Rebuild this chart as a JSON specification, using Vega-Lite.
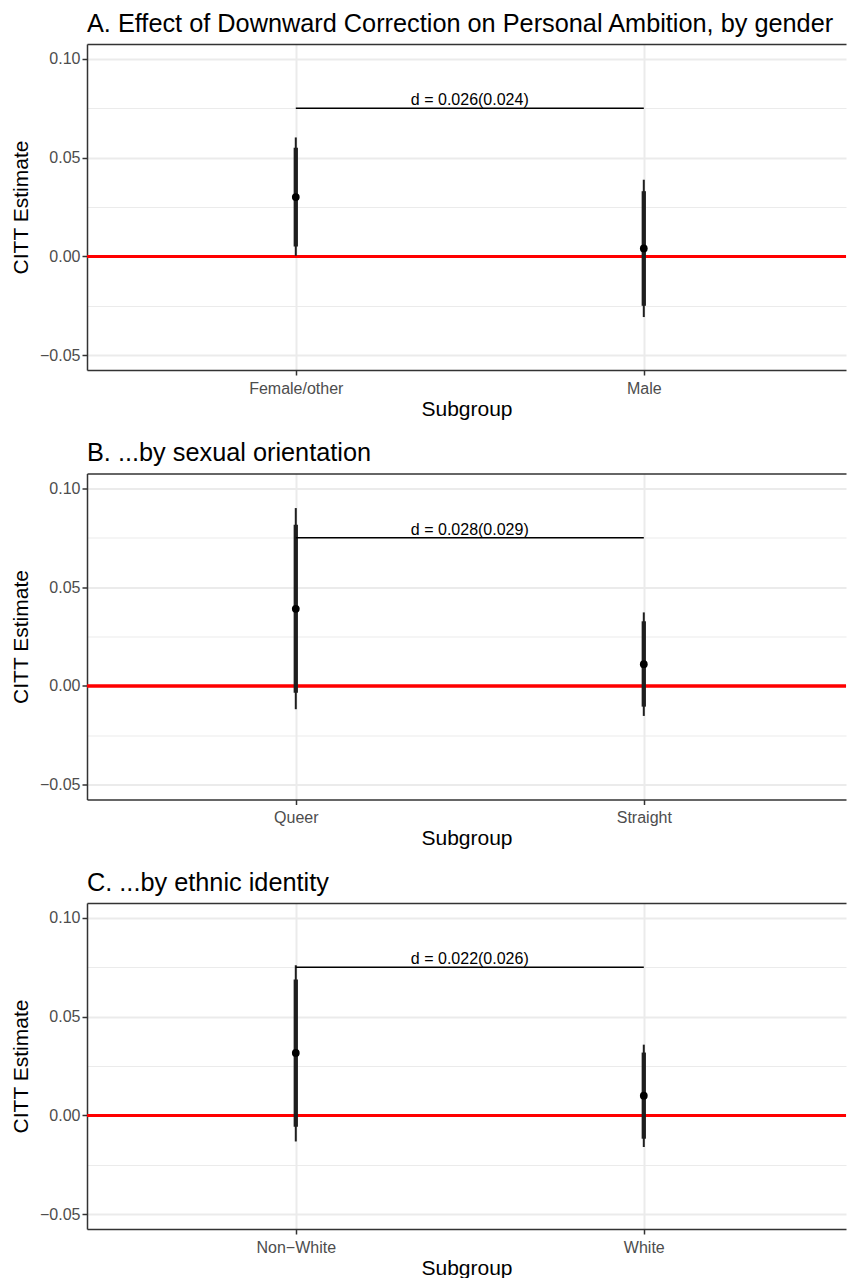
{
  "$schema": "https://vega.github.io/schema/vega-lite/v6.json",
  "padding": {"left": 10, "top": 11, "right": 0, "bottom": 0},
  "background": "white",
  "config": {
    "font": "Liberation Sans",
    "view": {"stroke": null},
    "axis": {
      "labelFont": "Liberation Sans", "titleFont": "Liberation Sans",
      "labelFontSize": 16, "labelColor": "#4D4D4D",
      "titleFontSize": 21, "titleFontWeight": "normal", "titleColor": "black",
      "tickColor": "#333333", "tickSize": 5, "tickWidth": 1.5,
      "domain": true, "domainColor": "#333333", "domainWidth": 1.5,
      "gridColor": "#EBEBEB", "gridWidth": 2
    },
    "title": {"font": "Liberation Sans", "fontSize": 25.3, "fontWeight": "normal", "anchor": "start", "frame": "group", "color": "black", "offset": 7},
    "concat": {"spacing": 21.5}
  },
  "datasets": {
    "est": [
      {"panel": "A", "group": "Female/other", "est": 0.030, "lo95": 0.0003, "hi95": 0.0602, "lo90": 0.0050, "hi90": 0.0550},
      {"panel": "A", "group": "Male", "est": 0.004, "lo95": -0.0307, "hi95": 0.0388, "lo90": -0.0250, "hi90": 0.0330},
      {"panel": "B", "group": "Queer", "est": 0.039, "lo95": -0.0118, "hi95": 0.0900, "lo90": -0.0035, "hi90": 0.0815},
      {"panel": "B", "group": "Straight", "est": 0.011, "lo95": -0.0152, "hi95": 0.0372, "lo90": -0.0105, "hi90": 0.0327},
      {"panel": "C", "group": "Non\u2212White", "est": 0.0316, "lo95": -0.0132, "hi95": 0.0760, "lo90": -0.0057, "hi90": 0.0688},
      {"panel": "C", "group": "White", "est": 0.010, "lo95": -0.0160, "hi95": 0.0358, "lo90": -0.0118, "hi90": 0.0318}
    ],
    "diff": [
      {"panel": "A", "x1": 1, "x2": 2, "xmid": 1.5, "y": 0.075, "label": "d = 0.026(0.024)"},
      {"panel": "B", "x1": 1, "x2": 2, "xmid": 1.5, "y": 0.075, "label": "d = 0.028(0.029)"},
      {"panel": "C", "x1": 1, "x2": 2, "xmid": 1.5, "y": 0.075, "label": "d = 0.022(0.026)"}
    ]
  },
  "vconcat": [
    {
      "title": {"text": "A. Effect of Downward Correction on Personal Ambition, by gender"},
      "width": 759, "height": 326,
      "resolve": {"scale": {"x": "independent"}, "axis": {"x": "independent", "y": "independent"}},
      "layer": [
        {
          "data": {"name": "est"},
          "transform": [{"filter": {"field": "panel", "equal": "A"}}],
          "layer": [
            {"mark": {"type": "rule", "color": "#FF0000", "strokeWidth": 3},
             "encoding": {"y": {"datum": 0, "type": "quantitative", "scale": {"domain": [-0.0575, 0.1075], "nice": false, "zero": false}, "axis": {"title": "CITT Estimate", "values": [-0.05, 0, 0.05, 0.1], "format": ".2f", "grid": true, "labelPadding": 2, "titlePadding": 8}}}},
            {"mark": {"type": "rule", "color": "#1E1E1E", "strokeWidth": 2},
             "encoding": {
               "x": {"field": "group", "type": "nominal", "scale": {"type": "point", "padding": 0.5905, "align": 0.508}, "axis": {"title": "Subgroup", "labelAngle": 0, "grid": true, "labelPadding": 5, "titlePadding": 2}},
               "y": {"field": "lo95", "type": "quantitative", "scale": {"domain": [-0.0575, 0.1075], "nice": false, "zero": false}, "axis": {"title": "CITT Estimate", "values": [-0.05, 0, 0.05, 0.1], "format": ".2f", "grid": true, "labelPadding": 2, "titlePadding": 8}},
               "y2": {"field": "hi95"}}},
            {"mark": {"type": "rule", "color": "#1E1E1E", "strokeWidth": 4.3},
             "encoding": {
               "x": {"field": "group", "type": "nominal"},
               "y": {"field": "lo90", "type": "quantitative", "scale": {"domain": [-0.0575, 0.1075], "nice": false, "zero": false}, "axis": {"title": "CITT Estimate", "values": [-0.05, 0, 0.05, 0.1], "format": ".2f", "grid": true, "labelPadding": 2, "titlePadding": 8}},
               "y2": {"field": "hi90"}}},
            {"mark": {"type": "circle", "color": "black", "opacity": 1, "size": 60},
             "encoding": {
               "x": {"field": "group", "type": "nominal"},
               "y": {"field": "est", "type": "quantitative", "scale": {"domain": [-0.0575, 0.1075], "nice": false, "zero": false}, "axis": {"title": "CITT Estimate", "values": [-0.05, 0, 0.05, 0.1], "format": ".2f", "grid": true, "labelPadding": 2, "titlePadding": 8}}}}
          ]
        },
        {
          "data": {"name": "diff"},
          "transform": [{"filter": {"field": "panel", "equal": "A"}}],
          "layer": [
            {"mark": {"type": "rule", "color": "black", "strokeWidth": 1.5},
             "encoding": {
               "x": {"field": "x1", "type": "quantitative", "scale": {"domain": [0.4, 2.581], "nice": false, "zero": false}, "axis": {"orient": "top", "domain": true, "labels": false, "ticks": false, "grid": false, "title": null}},
               "x2": {"field": "x2"},
               "y": {"field": "y", "type": "quantitative", "scale": {"domain": [-0.0575, 0.1075], "nice": false, "zero": false}, "axis": {"orient": "left", "values": [-0.025, 0.025, 0.075], "grid": true, "gridWidth": 1.2, "labels": false, "ticks": false, "domain": false, "title": null}}}},
            {"mark": {"type": "text", "fontSize": 16, "baseline": "alphabetic", "dy": -3, "color": "black"},
             "encoding": {
               "x": {"field": "xmid", "type": "quantitative", "scale": {"domain": [0.4, 2.581], "nice": false, "zero": false}, "axis": {"orient": "top", "domain": true, "labels": false, "ticks": false, "grid": false, "title": null}},
               "y": {"field": "y", "type": "quantitative", "scale": {"domain": [-0.0575, 0.1075], "nice": false, "zero": false}, "axis": {"orient": "left", "values": [-0.025, 0.025, 0.075], "grid": true, "gridWidth": 1.2, "labels": false, "ticks": false, "domain": false, "title": null}},
               "text": {"field": "label"}}}
          ]
        }
      ]
    },
    {
      "title": {"text": "B. ...by sexual orientation"},
      "width": 759, "height": 326,
      "resolve": {"scale": {"x": "independent"}, "axis": {"x": "independent", "y": "independent"}},
      "layer": [
        {
          "data": {"name": "est"},
          "transform": [{"filter": {"field": "panel", "equal": "B"}}],
          "layer": [
            {"mark": {"type": "rule", "color": "#FF0000", "strokeWidth": 3},
             "encoding": {"y": {"datum": 0, "type": "quantitative", "scale": {"domain": [-0.0575, 0.1075], "nice": false, "zero": false}, "axis": {"title": "CITT Estimate", "values": [-0.05, 0, 0.05, 0.1], "format": ".2f", "grid": true, "labelPadding": 2, "titlePadding": 8}}}},
            {"mark": {"type": "rule", "color": "#1E1E1E", "strokeWidth": 2},
             "encoding": {
               "x": {"field": "group", "type": "nominal", "scale": {"type": "point", "padding": 0.5905, "align": 0.508}, "axis": {"title": "Subgroup", "labelAngle": 0, "grid": true, "labelPadding": 5, "titlePadding": 2}},
               "y": {"field": "lo95", "type": "quantitative", "scale": {"domain": [-0.0575, 0.1075], "nice": false, "zero": false}, "axis": {"title": "CITT Estimate", "values": [-0.05, 0, 0.05, 0.1], "format": ".2f", "grid": true, "labelPadding": 2, "titlePadding": 8}},
               "y2": {"field": "hi95"}}},
            {"mark": {"type": "rule", "color": "#1E1E1E", "strokeWidth": 4.3},
             "encoding": {
               "x": {"field": "group", "type": "nominal"},
               "y": {"field": "lo90", "type": "quantitative", "scale": {"domain": [-0.0575, 0.1075], "nice": false, "zero": false}, "axis": {"title": "CITT Estimate", "values": [-0.05, 0, 0.05, 0.1], "format": ".2f", "grid": true, "labelPadding": 2, "titlePadding": 8}},
               "y2": {"field": "hi90"}}},
            {"mark": {"type": "circle", "color": "black", "opacity": 1, "size": 60},
             "encoding": {
               "x": {"field": "group", "type": "nominal"},
               "y": {"field": "est", "type": "quantitative", "scale": {"domain": [-0.0575, 0.1075], "nice": false, "zero": false}, "axis": {"title": "CITT Estimate", "values": [-0.05, 0, 0.05, 0.1], "format": ".2f", "grid": true, "labelPadding": 2, "titlePadding": 8}}}}
          ]
        },
        {
          "data": {"name": "diff"},
          "transform": [{"filter": {"field": "panel", "equal": "B"}}],
          "layer": [
            {"mark": {"type": "rule", "color": "black", "strokeWidth": 1.5},
             "encoding": {
               "x": {"field": "x1", "type": "quantitative", "scale": {"domain": [0.4, 2.581], "nice": false, "zero": false}, "axis": {"orient": "top", "domain": true, "labels": false, "ticks": false, "grid": false, "title": null}},
               "x2": {"field": "x2"},
               "y": {"field": "y", "type": "quantitative", "scale": {"domain": [-0.0575, 0.1075], "nice": false, "zero": false}, "axis": {"orient": "left", "values": [-0.025, 0.025, 0.075], "grid": true, "gridWidth": 1.2, "labels": false, "ticks": false, "domain": false, "title": null}}}},
            {"mark": {"type": "text", "fontSize": 16, "baseline": "alphabetic", "dy": -3, "color": "black"},
             "encoding": {
               "x": {"field": "xmid", "type": "quantitative", "scale": {"domain": [0.4, 2.581], "nice": false, "zero": false}, "axis": {"orient": "top", "domain": true, "labels": false, "ticks": false, "grid": false, "title": null}},
               "y": {"field": "y", "type": "quantitative", "scale": {"domain": [-0.0575, 0.1075], "nice": false, "zero": false}, "axis": {"orient": "left", "values": [-0.025, 0.025, 0.075], "grid": true, "gridWidth": 1.2, "labels": false, "ticks": false, "domain": false, "title": null}},
               "text": {"field": "label"}}}
          ]
        }
      ]
    },
    {
      "title": {"text": "C. ...by ethnic identity"},
      "width": 759, "height": 326,
      "resolve": {"scale": {"x": "independent"}, "axis": {"x": "independent", "y": "independent"}},
      "layer": [
        {
          "data": {"name": "est"},
          "transform": [{"filter": {"field": "panel", "equal": "C"}}],
          "layer": [
            {"mark": {"type": "rule", "color": "#FF0000", "strokeWidth": 3},
             "encoding": {"y": {"datum": 0, "type": "quantitative", "scale": {"domain": [-0.0575, 0.1075], "nice": false, "zero": false}, "axis": {"title": "CITT Estimate", "values": [-0.05, 0, 0.05, 0.1], "format": ".2f", "grid": true, "labelPadding": 2, "titlePadding": 8}}}},
            {"mark": {"type": "rule", "color": "#1E1E1E", "strokeWidth": 2},
             "encoding": {
               "x": {"field": "group", "type": "nominal", "scale": {"type": "point", "padding": 0.5905, "align": 0.508}, "axis": {"title": "Subgroup", "labelAngle": 0, "grid": true, "labelPadding": 5, "titlePadding": 2}},
               "y": {"field": "lo95", "type": "quantitative", "scale": {"domain": [-0.0575, 0.1075], "nice": false, "zero": false}, "axis": {"title": "CITT Estimate", "values": [-0.05, 0, 0.05, 0.1], "format": ".2f", "grid": true, "labelPadding": 2, "titlePadding": 8}},
               "y2": {"field": "hi95"}}},
            {"mark": {"type": "rule", "color": "#1E1E1E", "strokeWidth": 4.3},
             "encoding": {
               "x": {"field": "group", "type": "nominal"},
               "y": {"field": "lo90", "type": "quantitative", "scale": {"domain": [-0.0575, 0.1075], "nice": false, "zero": false}, "axis": {"title": "CITT Estimate", "values": [-0.05, 0, 0.05, 0.1], "format": ".2f", "grid": true, "labelPadding": 2, "titlePadding": 8}},
               "y2": {"field": "hi90"}}},
            {"mark": {"type": "circle", "color": "black", "opacity": 1, "size": 60},
             "encoding": {
               "x": {"field": "group", "type": "nominal"},
               "y": {"field": "est", "type": "quantitative", "scale": {"domain": [-0.0575, 0.1075], "nice": false, "zero": false}, "axis": {"title": "CITT Estimate", "values": [-0.05, 0, 0.05, 0.1], "format": ".2f", "grid": true, "labelPadding": 2, "titlePadding": 8}}}}
          ]
        },
        {
          "data": {"name": "diff"},
          "transform": [{"filter": {"field": "panel", "equal": "C"}}],
          "layer": [
            {"mark": {"type": "rule", "color": "black", "strokeWidth": 1.5},
             "encoding": {
               "x": {"field": "x1", "type": "quantitative", "scale": {"domain": [0.4, 2.581], "nice": false, "zero": false}, "axis": {"orient": "top", "domain": true, "labels": false, "ticks": false, "grid": false, "title": null}},
               "x2": {"field": "x2"},
               "y": {"field": "y", "type": "quantitative", "scale": {"domain": [-0.0575, 0.1075], "nice": false, "zero": false}, "axis": {"orient": "left", "values": [-0.025, 0.025, 0.075], "grid": true, "gridWidth": 1.2, "labels": false, "ticks": false, "domain": false, "title": null}}}},
            {"mark": {"type": "text", "fontSize": 16, "baseline": "alphabetic", "dy": -3, "color": "black"},
             "encoding": {
               "x": {"field": "xmid", "type": "quantitative", "scale": {"domain": [0.4, 2.581], "nice": false, "zero": false}, "axis": {"orient": "top", "domain": true, "labels": false, "ticks": false, "grid": false, "title": null}},
               "y": {"field": "y", "type": "quantitative", "scale": {"domain": [-0.0575, 0.1075], "nice": false, "zero": false}, "axis": {"orient": "left", "values": [-0.025, 0.025, 0.075], "grid": true, "gridWidth": 1.2, "labels": false, "ticks": false, "domain": false, "title": null}},
               "text": {"field": "label"}}}
          ]
        }
      ]
    }
  ]
}
